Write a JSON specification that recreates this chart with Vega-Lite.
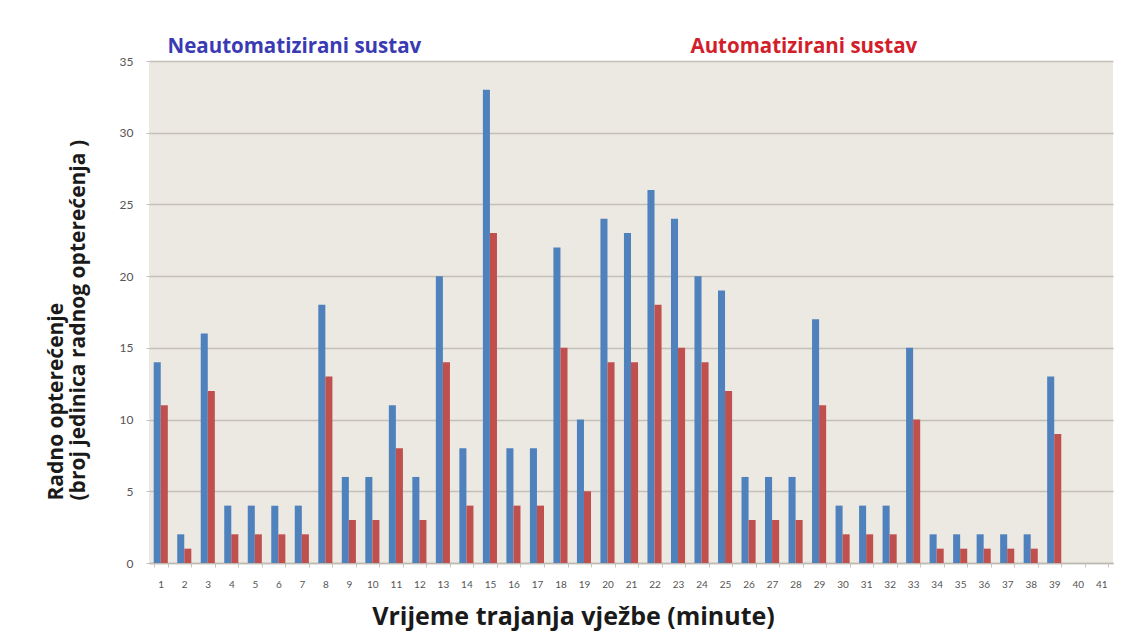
{
  "$schema": "https://vega.github.io/schema/vega-lite/v6.json",
  "width": 964,
  "height": 502,
  "autosize": {"type": "none"},
  "padding": {"left": 149, "top": 61, "right": 17, "bottom": 77},
  "background": "white",
  "config": {
    "view": {"fill": "#ECE9E2", "stroke": null},
    "font": "Lato"
  },
  "datasets": {
    "d": [
      {"minuta": 1, "sustav": "Neautomatizirani sustav", "opterecenje": 14},
      {"minuta": 1, "sustav": "Automatizirani sustav", "opterecenje": 11},
      {"minuta": 2, "sustav": "Neautomatizirani sustav", "opterecenje": 2},
      {"minuta": 2, "sustav": "Automatizirani sustav", "opterecenje": 1},
      {"minuta": 3, "sustav": "Neautomatizirani sustav", "opterecenje": 16},
      {"minuta": 3, "sustav": "Automatizirani sustav", "opterecenje": 12},
      {"minuta": 4, "sustav": "Neautomatizirani sustav", "opterecenje": 4},
      {"minuta": 4, "sustav": "Automatizirani sustav", "opterecenje": 2},
      {"minuta": 5, "sustav": "Neautomatizirani sustav", "opterecenje": 4},
      {"minuta": 5, "sustav": "Automatizirani sustav", "opterecenje": 2},
      {"minuta": 6, "sustav": "Neautomatizirani sustav", "opterecenje": 4},
      {"minuta": 6, "sustav": "Automatizirani sustav", "opterecenje": 2},
      {"minuta": 7, "sustav": "Neautomatizirani sustav", "opterecenje": 4},
      {"minuta": 7, "sustav": "Automatizirani sustav", "opterecenje": 2},
      {"minuta": 8, "sustav": "Neautomatizirani sustav", "opterecenje": 18},
      {"minuta": 8, "sustav": "Automatizirani sustav", "opterecenje": 13},
      {"minuta": 9, "sustav": "Neautomatizirani sustav", "opterecenje": 6},
      {"minuta": 9, "sustav": "Automatizirani sustav", "opterecenje": 3},
      {"minuta": 10, "sustav": "Neautomatizirani sustav", "opterecenje": 6},
      {"minuta": 10, "sustav": "Automatizirani sustav", "opterecenje": 3},
      {"minuta": 11, "sustav": "Neautomatizirani sustav", "opterecenje": 11},
      {"minuta": 11, "sustav": "Automatizirani sustav", "opterecenje": 8},
      {"minuta": 12, "sustav": "Neautomatizirani sustav", "opterecenje": 6},
      {"minuta": 12, "sustav": "Automatizirani sustav", "opterecenje": 3},
      {"minuta": 13, "sustav": "Neautomatizirani sustav", "opterecenje": 20},
      {"minuta": 13, "sustav": "Automatizirani sustav", "opterecenje": 14},
      {"minuta": 14, "sustav": "Neautomatizirani sustav", "opterecenje": 8},
      {"minuta": 14, "sustav": "Automatizirani sustav", "opterecenje": 4},
      {"minuta": 15, "sustav": "Neautomatizirani sustav", "opterecenje": 33},
      {"minuta": 15, "sustav": "Automatizirani sustav", "opterecenje": 23},
      {"minuta": 16, "sustav": "Neautomatizirani sustav", "opterecenje": 8},
      {"minuta": 16, "sustav": "Automatizirani sustav", "opterecenje": 4},
      {"minuta": 17, "sustav": "Neautomatizirani sustav", "opterecenje": 8},
      {"minuta": 17, "sustav": "Automatizirani sustav", "opterecenje": 4},
      {"minuta": 18, "sustav": "Neautomatizirani sustav", "opterecenje": 22},
      {"minuta": 18, "sustav": "Automatizirani sustav", "opterecenje": 15},
      {"minuta": 19, "sustav": "Neautomatizirani sustav", "opterecenje": 10},
      {"minuta": 19, "sustav": "Automatizirani sustav", "opterecenje": 5},
      {"minuta": 20, "sustav": "Neautomatizirani sustav", "opterecenje": 24},
      {"minuta": 20, "sustav": "Automatizirani sustav", "opterecenje": 14},
      {"minuta": 21, "sustav": "Neautomatizirani sustav", "opterecenje": 23},
      {"minuta": 21, "sustav": "Automatizirani sustav", "opterecenje": 14},
      {"minuta": 22, "sustav": "Neautomatizirani sustav", "opterecenje": 26},
      {"minuta": 22, "sustav": "Automatizirani sustav", "opterecenje": 18},
      {"minuta": 23, "sustav": "Neautomatizirani sustav", "opterecenje": 24},
      {"minuta": 23, "sustav": "Automatizirani sustav", "opterecenje": 15},
      {"minuta": 24, "sustav": "Neautomatizirani sustav", "opterecenje": 20},
      {"minuta": 24, "sustav": "Automatizirani sustav", "opterecenje": 14},
      {"minuta": 25, "sustav": "Neautomatizirani sustav", "opterecenje": 19},
      {"minuta": 25, "sustav": "Automatizirani sustav", "opterecenje": 12},
      {"minuta": 26, "sustav": "Neautomatizirani sustav", "opterecenje": 6},
      {"minuta": 26, "sustav": "Automatizirani sustav", "opterecenje": 3},
      {"minuta": 27, "sustav": "Neautomatizirani sustav", "opterecenje": 6},
      {"minuta": 27, "sustav": "Automatizirani sustav", "opterecenje": 3},
      {"minuta": 28, "sustav": "Neautomatizirani sustav", "opterecenje": 6},
      {"minuta": 28, "sustav": "Automatizirani sustav", "opterecenje": 3},
      {"minuta": 29, "sustav": "Neautomatizirani sustav", "opterecenje": 17},
      {"minuta": 29, "sustav": "Automatizirani sustav", "opterecenje": 11},
      {"minuta": 30, "sustav": "Neautomatizirani sustav", "opterecenje": 4},
      {"minuta": 30, "sustav": "Automatizirani sustav", "opterecenje": 2},
      {"minuta": 31, "sustav": "Neautomatizirani sustav", "opterecenje": 4},
      {"minuta": 31, "sustav": "Automatizirani sustav", "opterecenje": 2},
      {"minuta": 32, "sustav": "Neautomatizirani sustav", "opterecenje": 4},
      {"minuta": 32, "sustav": "Automatizirani sustav", "opterecenje": 2},
      {"minuta": 33, "sustav": "Neautomatizirani sustav", "opterecenje": 15},
      {"minuta": 33, "sustav": "Automatizirani sustav", "opterecenje": 10},
      {"minuta": 34, "sustav": "Neautomatizirani sustav", "opterecenje": 2},
      {"minuta": 34, "sustav": "Automatizirani sustav", "opterecenje": 1},
      {"minuta": 35, "sustav": "Neautomatizirani sustav", "opterecenje": 2},
      {"minuta": 35, "sustav": "Automatizirani sustav", "opterecenje": 1},
      {"minuta": 36, "sustav": "Neautomatizirani sustav", "opterecenje": 2},
      {"minuta": 36, "sustav": "Automatizirani sustav", "opterecenje": 1},
      {"minuta": 37, "sustav": "Neautomatizirani sustav", "opterecenje": 2},
      {"minuta": 37, "sustav": "Automatizirani sustav", "opterecenje": 1},
      {"minuta": 38, "sustav": "Neautomatizirani sustav", "opterecenje": 2},
      {"minuta": 38, "sustav": "Automatizirani sustav", "opterecenje": 1},
      {"minuta": 39, "sustav": "Neautomatizirani sustav", "opterecenje": 13},
      {"minuta": 39, "sustav": "Automatizirani sustav", "opterecenje": 9},
      {"minuta": 40, "sustav": "Neautomatizirani sustav", "opterecenje": 0},
      {"minuta": 40, "sustav": "Automatizirani sustav", "opterecenje": 0},
      {"minuta": 41, "sustav": "Neautomatizirani sustav", "opterecenje": 0},
      {"minuta": 41, "sustav": "Automatizirani sustav", "opterecenje": 0}
    ]
  },
  "data": {"name": "d"},
  "mark": {"type": "bar"},
  "encoding": {
    "x": {
      "field": "minuta",
      "type": "ordinal",
      "scale": {"paddingInner": 0.4, "paddingOuter": 0.2},
      "axis": {
        "labelAngle": 0,
        "labelFontSize": 10,
        "labelColor": "#555555",
        "labelPadding": 12,
        "domainColor": "#BDBAB3",
        "domainWidth": 1.5,
        "ticks": true,
        "tickBand": "extent",
        "tickSize": 4,
        "tickColor": "#C8C5BE",
        "title": "Vrijeme trajanja vježbe (minute)",
        "titleFont": "Open Sans",
        "titleFontSize": 25,
        "titleFontWeight": "bold",
        "titleColor": "#1A1A1A",
        "titleAlign": "center",
        "titleBaseline": "alphabetic",
        "titleX": 424,
        "titleY": 61
      }
    },
    "xOffset": {
      "field": "sustav",
      "sort": ["Neautomatizirani sustav", "Automatizirani sustav"]
    },
    "y": {
      "field": "opterecenje",
      "type": "quantitative",
      "scale": {"domain": [0, 35], "nice": false},
      "axis": {
        "values": [0, 5, 10, 15, 20, 25, 30, 35],
        "grid": true,
        "gridColor": "#C3C0B9",
        "gridWidth": 1.5,
        "domain": false,
        "ticks": true,
        "tickSize": 3,
        "tickColor": "#C3C0B9",
        "labelFontSize": 12,
        "labelColor": "#555555",
        "labelPadding": 13,
        "title": ["Radno opterećenje", "(broj jedinica radnog opterećenja )"],
        "titleFont": "Open Sans",
        "titleFontSize": 21,
        "titleFontWeight": "bold",
        "titleColor": "#1A1A1A",
        "titleAngle": 270,
        "titleAlign": "left",
        "titleBaseline": "top",
        "titleLineHeight": 22,
        "titleX": -104,
        "titleY": 439
      }
    },
    "color": {
      "field": "sustav",
      "type": "nominal",
      "scale": {
        "domain": ["Neautomatizirani sustav", "Automatizirani sustav"],
        "range": ["#4F81BD", "#C0504D"]
      },
      "legend": {
        "orient": "none",
        "legendX": -2,
        "legendY": -24,
        "direction": "horizontal",
        "title": null,
        "padding": 0,
        "symbolSize": 0,
        "symbolOpacity": 0,
        "symbolStrokeWidth": 0,
        "labelOffset": 0,
        "labelFont": "Open Sans",
        "labelFontSize": 20.5,
        "labelFontWeight": "bold",
        "labelLimit": 400,
        "columnPadding": 248,
        "encode": {
          "labels": {
            "update": {
              "fill": {"signal": "datum.label === 'Neautomatizirani sustav' ? '#3A3AB4' : '#D2202A'"}
            }
          }
        }
      }
    }
  }
}
